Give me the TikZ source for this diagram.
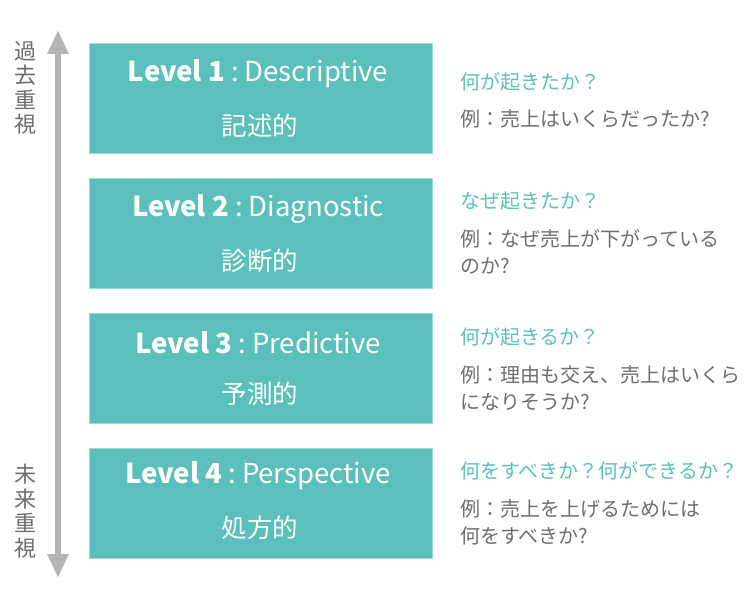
\documentclass[tikz,border=0pt]{standalone}
\usepackage{fontspec}
\setmainfont{Noto Sans CJK JP}
\usetikzlibrary{arrows.meta}
\definecolor{teal1}{HTML}{5BC0BB}
\definecolor{grey1}{HTML}{6E6E6E}
\definecolor{arrowgrey}{HTML}{B4B4B4}
\newcommand{\lvsep}{\hspace{0.22em}:\hspace{0.22em}}

\begin{document}
\begin{tikzpicture}[x=1pt, y=-1pt,
  level/.style={rectangle, fill=teal1, draw=teal1!60, line width=0.8pt, minimum width=343pt, minimum height=110pt, anchor=center},
  lvtitle/.style={text=white, font=\fontsize{27.5}{30}\selectfont, anchor=center},
  lvname/.style={text=white, font=\fontsize{25.5}{28}\selectfont, anchor=center},
  ask/.style={text=teal1, font=\fontsize{20}{24}\selectfont, anchor=west, inner sep=0pt},
  sample/.style={text=grey1, font=\fontsize{20}{27}\selectfont, anchor=north west, align=left, inner sep=0pt},
  side/.style={text=grey1, font=\fontsize{22}{24.5}\selectfont, align=center, inner sep=0pt}]
  \useasboundingbox (0,0) rectangle (750,591);

  % time axis
  \coordinate (top) at (58,30);
  \coordinate (bottom) at (58,578);
  \draw[arrowgrey, line width=6pt, {Triangle[width=20pt,length=24pt]}-{Triangle[width=20pt,length=24pt]}] (top) -- (bottom);
  \node[side] (past) at (25,88) {過\\去\\重\\視};
  \node[side] (future) at (25,511) {未\\来\\重\\視};

  % levels
  \node[level] (lv1) at (260.5,98) {};
  \node[lvtitle] (t1) at (258,74) {\textbf{Level 1}\lvsep Descriptive};
  \node[lvname] (n1) at (260,126) {記述的};
  \node[ask] (q1) at (460,82) {何が起きたか？};
  \node[sample] (e1) at (460,110) {例：売上はいくらだったか?};

  \node[level] (lv2) at (260.5,233) {};
  \node[lvtitle] (t2) at (258,209) {\textbf{Level 2}\lvsep Diagnostic};
  \node[lvname] (n2) at (260,261) {診断的};
  \node[ask] (q2) at (460,201) {なぜ起きたか？};
  \node[sample] (e2) at (460,229) {例：なぜ売上が下がっている\\のか?};

  \node[level] (lv3) at (260.5,368) {};
  \node[lvtitle] (t3) at (258,343) {\textbf{Level 3}\lvsep Predictive};
  \node[lvname] (n3) at (260,394) {予測的};
  \node[ask] (q3) at (460,337) {何が起きるか？};
  \node[sample] (e3) at (460,365) {例：理由も交え、売上はいくら\\になりそうか?};

  \node[level] (lv4) at (260.5,503) {};
  \node[lvtitle] (t4) at (258,476) {\textbf{Level 4}\lvsep Perspective};
  \node[lvname] (n4) at (260,528) {処方的};
  \node[ask] (q4) at (460,471) {何をすべきか？何ができるか？};
  \node[sample] (e4) at (460,499) {例：売上を上げるためには\\何をすべきか?};
\end{tikzpicture}
\end{document}
